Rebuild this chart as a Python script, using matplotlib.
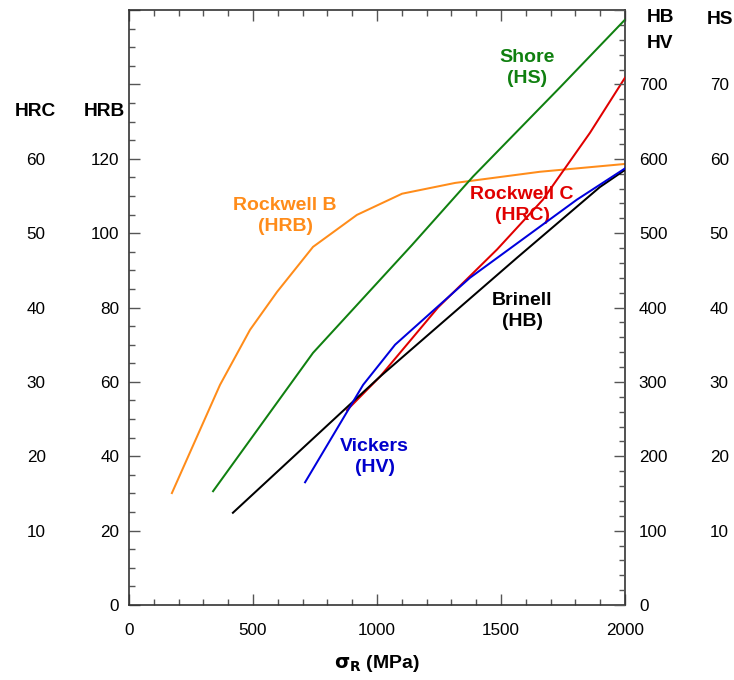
import numpy as np
import matplotlib
matplotlib.use("Agg")
import matplotlib.pyplot as plt
from matplotlib.ticker import MultipleLocator, FuncFormatter

plt.rcParams['font.family'] = ['Liberation Sans', 'DejaVu Sans']

# --- data (x = tensile strength in MPa) ---
hrb_x = [173, 367, 488, 597, 742, 919, 1101, 1315, 1657, 2000]
hrb_y = [30.1, 59.2, 74.0, 84.2, 96.3, 104.9, 110.6, 113.5, 116.5, 118.6]

hs_x = [339, 742, 1141, 1387, 1738, 2000]
hs_y = [15.3, 33.9, 48.4, 57.6, 69.6, 78.7]

hrc_x = [879, 1012, 1246, 1484, 1669, 1859, 2000]
hrc_y = [26.2, 30.7, 40.0, 47.8, 54.5, 63.5, 70.9]

hv_x = [710, 944, 1073, 1375, 1806, 2000]
hv_y = [165, 296, 350, 440, 545, 587]

hb_x = [419, 1012, 1565, 1899, 2000]
hb_y = [124, 307, 467, 562, 585]

W, H = 734, 680
fig = plt.figure(figsize=(W / 100, H / 100), dpi=100)
ax = fig.add_axes([129 / W, 1 - 605 / H, (625 - 129) / W, (605 - 10) / H])

tick_fs = 12.3
lw = 1.45

# main axis: HRB
ax.set_xlim(0, 2000)
ax.set_ylim(0, 160)
ax.xaxis.set_major_locator(MultipleLocator(500))
ax.xaxis.set_minor_locator(MultipleLocator(100))
ax.yaxis.set_major_locator(MultipleLocator(20))
ax.yaxis.set_minor_locator(MultipleLocator(5))
ax.yaxis.set_major_formatter(FuncFormatter(lambda v, p: f"{v:.0f}" if v <= 120 else ""))
ax.tick_params(axis='both', which='both', direction='in', top=True, right=False,
               labelsize=tick_fs, color='#555555')
ax.tick_params(axis='both', which='major', length=8, width=1)
ax.tick_params(axis='both', which='minor', length=4.5, width=1)
ax.tick_params(axis='x', pad=13)
ax.tick_params(axis='y', pad=7)
for s in ax.spines.values():
    s.set_color('#333333')
    s.set_linewidth(1.2)
ax.plot(hrb_x, hrb_y, color='#ff8c1a', lw=lw)

# HRC labels on the far left
ax_c = ax.twinx()
ax_c.set_ylim(0, 80)
ax_c.yaxis.set_ticks_position('left')
ax_c.yaxis.set_label_position('left')
ax_c.set_yticks([10, 20, 30, 40, 50, 60])
ax_c.tick_params(axis='y', length=0, pad=60, labelsize=tick_fs)
for s in ax_c.spines.values():
    s.set_visible(False)
ax_c.plot(hrc_x, hrc_y, color='#e00000', lw=lw)

# HB / HV axis on the right
ax_b = ax.twinx()
ax_b.set_ylim(0, 800)
ax_b.yaxis.set_major_locator(MultipleLocator(100))
ax_b.yaxis.set_minor_locator(MultipleLocator(20))
ax_b.yaxis.set_major_formatter(FuncFormatter(lambda v, p: f"{v:.0f}" if v <= 700 else ""))
ax_b.tick_params(axis='y', which='both', direction='in', labelsize=tick_fs, color='#555555')
ax_b.tick_params(axis='y', which='major', length=8, width=1, pad=10)
ax_b.tick_params(axis='y', which='minor', length=4.5, width=1)
for s in ax_b.spines.values():
    s.set_visible(False)
ax_b.plot(hb_x, hb_y, color='black', lw=lw)
ax_b.plot(hv_x, hv_y, color='#0000dd', lw=lw)

# HS labels on the far right
ax_s = ax.twinx()
ax_s.set_ylim(0, 80)
ax_s.set_yticks([10, 20, 30, 40, 50, 60, 70])
ax_s.tick_params(axis='y', length=0, pad=61, labelsize=tick_fs)
for s in ax_s.spines.values():
    s.set_visible(False)
ax_s.plot(hs_x, hs_y, color='#108010', lw=lw)

# curve labels
lab_fs = 14
lab = dict(fontsize=lab_fs, fontweight='bold', ha='center', va='center', linespacing=1.3)
ax.text(630, 104.5, "Rockwell B\n(HRB)", color='#ff8c1a', **lab)
ax.text(1605, 144.3, "Shore\n(HS)", color='#108010', **lab)
ax.text(1585, 107.5, "Rockwell C\n(HRC)", color='#e00000', **lab)
ax.text(1585, 79, "Brinell\n(HB)", color='black', **lab)
ax.text(990, 39.8, "Vickers\n(HV)", color='#0000cc', **lab)

ax.set_xlabel(r"$\mathbf{\sigma_R}$ (MPa)", fontsize=14, fontweight='bold', labelpad=11)

# axis headers
hdr = dict(fontsize=13.8, fontweight='bold', ha='center', va='center')
fig.text(35 / W, 1 - 112 / H, "HRC", **hdr)
fig.text(104 / W, 1 - 112 / H, "HRB", **hdr)
fig.text(660 / W, 1 - 18 / H, "HB", **hdr)
fig.text(660 / W, 1 - 43 / H, "HV", **hdr)
fig.text(720 / W, 1 - 20 / H, "HS", **hdr)

fig.savefig("out.png", dpi=100)
